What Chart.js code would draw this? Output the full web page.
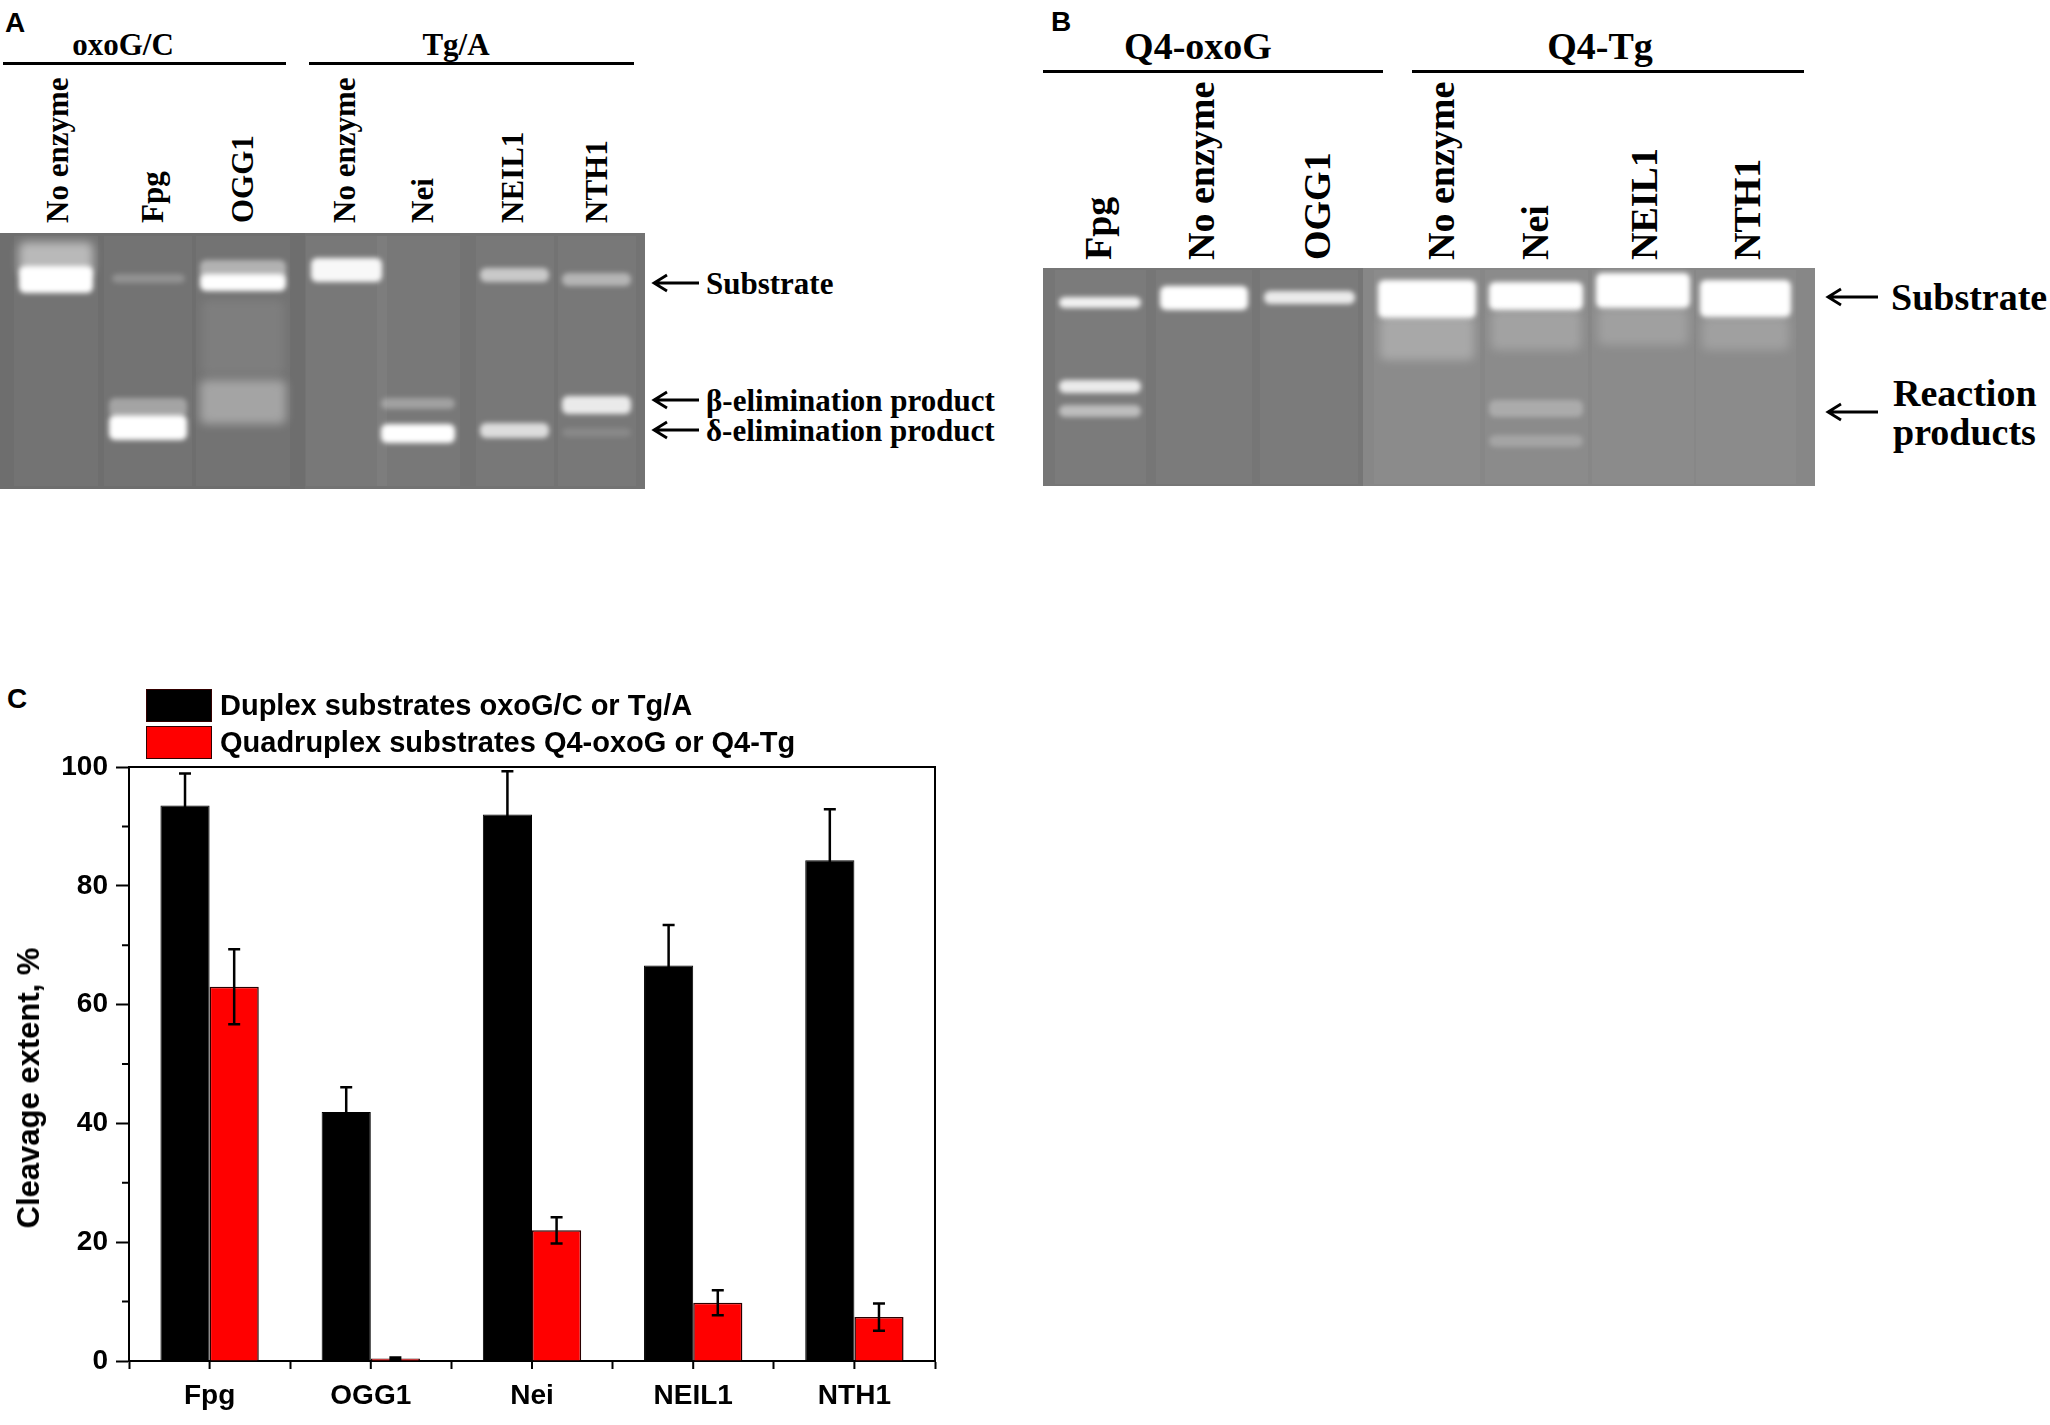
<!DOCTYPE html>
<html>
<head>
<meta charset="utf-8">
<script src="https://cdn.jsdelivr.net/npm/chart.js@4.4.1/dist/chart.umd.min.js"></script>
<style>
	body { margin: 0; width: 2050px; height: 1425px; background: #fff; position: relative; overflow: hidden; font-family: "Liberation Sans", Arial, sans-serif; }
	#gels { position: absolute; left: 0; top: 0; }
	#chart-box { position: absolute; left: 0; top: 660px; width: 960px; height: 765px; }
	.panel-letter { position: absolute; font: bold 28px "Liberation Sans", Arial, sans-serif; line-height: 1; }
	#legend { position: absolute; left: 146px; top: 689px; }
	.legend-row { display: flex; align-items: center; height: 33px; margin-bottom: 4px; }
	.legend-box { width: 66px; height: 33px; box-sizing: border-box; margin-right: 8px; border: 1px solid #300; }
	.legend-text { font: bold 29px "Liberation Sans", Arial, sans-serif; white-space: nowrap; }
	#y-title { position: absolute; left: 29px; top: 1088px; transform: translate(-50%, -50%) rotate(-90deg); font: bold 31px "Liberation Sans", Arial, sans-serif; white-space: nowrap; }
</style>
</head>
<body>
<svg id="gels" width="2050" height="500" xmlns="http://www.w3.org/2000/svg"></svg>
<div class="panel-letter" style="left:5px; top:9px;">A</div>
<div class="panel-letter" style="left:1051px; top:8px;">B</div>
<div class="panel-letter" style="left:7px; top:685px;">C</div>
<div id="chart-box"><canvas id="cleavage-chart"></canvas></div>
<div id="legend"></div>
<div id="y-title">Cleavage extent, %</div>
<script>
// chart data
const categories = ["Fpg", "OGG1", "Nei", "NEIL1", "NTH1"];
const duplexValues = [93.5, 41.9, 92.0, 66.6, 84.3];
const duplexErrors = [5.4, 4.2, 7.3, 6.8, 8.6];
const quadValues = [63.0, 0.4, 22.0, 9.8, 7.4];
const quadErrors = [6.3, 0.2, 2.2, 2.1, 2.3];
const yMinorTicks = [10, 30, 50, 70, 90];

const duplexLabel = "Duplex substrates oxoG/C or Tg/A";
const quadLabel = "Quadruplex substrates Q4-oxoG or Q4-Tg";

// gel pictures (panels A and B) drawn as plain svg
const svg = document.getElementById("gels");
let s = '<defs><filter id="blur" x="-30%" y="-80%" width="160%" height="260%"><feGaussianBlur stdDeviation="2.5"/></filter>' +
	'<filter id="blur2" x="-30%" y="-80%" width="160%" height="260%"><feGaussianBlur stdDeviation="5"/></filter></defs>';

function band(x1, x2, y1, y2, op, f)
{
	return '<rect x="' + x1 + '" y="' + y1 + '" width="' + (x2 - x1) + '" height="' + (y2 - y1) + '" rx="6" fill="#fff" opacity="' + op + '" filter="url(#' + (f || "blur") + ')"/>';
}
function txt(x, y, str, size, anchor)
{
	return '<text x="' + x + '" y="' + y + '" font-family="Liberation Serif, Times New Roman, serif" font-weight="bold" font-size="' + size + '" text-anchor="' + (anchor || "middle") + '" dominant-baseline="central">' + str + '</text>';
}
function lane(x, y, str, size)
{
	return '<text transform="translate(' + x + ',' + y + ') rotate(-90)" font-family="Liberation Serif, Times New Roman, serif" font-weight="bold" font-size="' + size + '" dominant-baseline="central">' + str + '</text>';
}
function arrow(x1, x2, y)
{
	return '<path d="M' + x2 + ' ' + y + ' H' + x1 + ' M' + (x1 + 13) + ' ' + (y - 8) + ' L' + x1 + ' ' + y + ' L' + (x1 + 13) + ' ' + (y + 8) + '" stroke="#000" stroke-width="2.8" fill="none"/>';
}

// panel A
s += txt(123, 44, "oxoG/C", 31) + txt(456, 44, "Tg/A", 31);
s += '<rect x="3" y="62" width="283" height="3" fill="#000"/><rect x="309" y="62" width="325" height="3" fill="#000"/>';
[["No enzyme", 57], ["Fpg", 152], ["OGG1", 242], ["No enzyme", 344], ["Nei", 422], ["NEIL1", 512], ["NTH1", 596]].forEach(function (l)
{
	s += lane(l[1], 223, l[0], 31);
});
s += '<rect x="0" y="233" width="645" height="256" fill="#6e6e6e"/>';
s += '<rect x="305" y="233" width="340" height="256" fill="#737373"/>';
[[14, 98], [104, 192], [196, 290], [306, 387], [377, 460], [476, 554], [558, 636]].forEach(function (l)
{
	s += '<rect x="' + l[0] + '" y="236" width="' + (l[1] - l[0]) + '" height="250" fill="#fff" opacity="0.04"/>';
});
s += band(19, 93, 242, 275, 0.5, "blur2") + band(19, 93, 266, 293, 1);
s += band(112, 185, 274, 283, 0.22) + band(109, 187, 398, 417, 0.35) + band(109, 187, 415, 440, 1);
s += band(200, 286, 260, 280, 0.45) + band(200, 286, 274, 291, 1) + band(202, 284, 300, 375, 0.08, "blur2") + band(200, 286, 380, 424, 0.35, "blur2");
s += band(311, 382, 258, 282, 0.95);
s += band(381, 455, 398, 409, 0.3) + band(381, 455, 424, 443, 1);
s += band(480, 549, 268, 282, 0.6) + band(480, 549, 423, 438, 0.75);
s += band(562, 631, 273, 286, 0.45) + band(562, 631, 396, 414, 0.85) + band(562, 631, 428, 437, 0.12);
s += arrow(654, 699, 283) + txt(706, 283, "Substrate", 31, "start");
s += arrow(654, 699, 400) + txt(706, 400, "β-elimination product", 31, "start");
s += arrow(654, 699, 430) + txt(706, 430, "δ-elimination product", 31, "start");

// panel B
s += txt(1198, 46, "Q4-oxoG", 38) + txt(1600, 46, "Q4-Tg", 38);
s += '<rect x="1043" y="70" width="340" height="3" fill="#000"/><rect x="1412" y="70" width="392" height="3" fill="#000"/>';
[["Fpg", 1098], ["No enzyme", 1201], ["OGG1", 1317], ["No enzyme", 1441], ["Nei", 1535], ["NEIL1", 1644], ["NTH1", 1747]].forEach(function (l)
{
	s += lane(l[1], 260, l[0], 38);
});
s += '<rect x="1043" y="268" width="320" height="218" fill="#767676"/>';
s += '<rect x="1363" y="268" width="452" height="218" fill="#878787"/>';
[[1055, 1146], [1156, 1252], [1260, 1358], [1374, 1480], [1485, 1588], [1592, 1694], [1696, 1796]].forEach(function (l)
{
	s += '<rect x="' + l[0] + '" y="270" width="' + (l[1] - l[0]) + '" height="214" fill="#fff" opacity="0.04"/>';
});
s += band(1059, 1141, 297, 308, 0.9) + band(1059, 1141, 380, 393, 0.85) + band(1059, 1141, 405, 417, 0.5);
s += band(1160, 1248, 286, 310, 1);
s += band(1264, 1355, 291, 304, 0.85);
s += band(1378, 1476, 280, 318, 1) + band(1380, 1474, 316, 360, 0.25, "blur2");
s += band(1489, 1583, 282, 310, 1) + band(1491, 1581, 310, 350, 0.2, "blur2") + band(1489, 1583, 400, 417, 0.28) + band(1489, 1583, 435, 447, 0.22);
s += band(1596, 1690, 273, 308, 1) + band(1598, 1688, 308, 345, 0.18, "blur2");
s += band(1700, 1791, 280, 317, 1) + band(1702, 1789, 317, 350, 0.18, "blur2");
s += arrow(1828, 1878, 297) + txt(1891, 297, "Substrate", 38, "start");
s += arrow(1828, 1878, 412) + txt(1893, 393, "Reaction", 38, "start") + txt(1893, 432, "products", 38, "start");
svg.innerHTML = s;

// Error bars drawn through the y scale
const errorBars = {
	id: "errorBars",
	afterDatasetsDraw(chart)
	{
		const ctx = chart.ctx;
		const y = chart.scales.y;
		ctx.save();
		ctx.strokeStyle = "#000";
		ctx.lineWidth = 2.5;
		chart.data.datasets.forEach(function (ds, di)
		{
			chart.getDatasetMeta(di).data.forEach(function (bar, i)
			{
				const top = y.getPixelForValue(ds.data[i] + ds.errors[i]);
				const bot = y.getPixelForValue(ds.data[i] - ds.errors[i]);
				ctx.beginPath();
				ctx.moveTo(bar.x, top); ctx.lineTo(bar.x, bot);
				ctx.moveTo(bar.x - 6, top); ctx.lineTo(bar.x + 6, top);
				ctx.moveTo(bar.x - 6, bot); ctx.lineTo(bar.x + 6, bot);
				ctx.stroke();
			});
		});
		ctx.restore();
	}
};

// top/right frame, minor y ticks and ticks under each category
const axisExtras = {
	id: "axisExtras",
	afterDraw(chart)
	{
		const {ctx, chartArea: a, scales: {x, y}} = chart;
		ctx.save();
		ctx.strokeStyle = "#000";
		ctx.lineWidth = 2;
		ctx.beginPath();
		ctx.moveTo(a.left, a.top); ctx.lineTo(a.right, a.top); ctx.lineTo(a.right, a.bottom);
		yMinorTicks.forEach(function (v)
		{
			const py = y.getPixelForValue(v);
			ctx.moveTo(a.left - 7, py); ctx.lineTo(a.left, py);
		});
		categories.forEach(function (c, i)
		{
			const px = x.getPixelForValue(i);
			ctx.moveTo(px, a.bottom); ctx.lineTo(px, a.bottom + 8);
		});
		ctx.stroke();
		ctx.restore();
	}
};

const tickFont = {family: "Liberation Sans", weight: "bold", size: 28};

const chart = new Chart(document.getElementById("cleavage-chart"), {
	type: "bar",
	data: {
		labels: categories,
		datasets: [{
			label: duplexLabel, data: duplexValues, errors: duplexErrors,
			backgroundColor: "#000000", borderColor: "#000000", borderWidth: 1
		}, {
			label: quadLabel, data: quadValues, errors: quadErrors,
			backgroundColor: "#ff0000", borderColor: "#2a0000", borderWidth: 1.5
		}]
	},
	options: {
		responsive: true,
		maintainAspectRatio: false,
		animation: false,
		datasets: {bar: {barPercentage: 1, categoryPercentage: 0.61}},
		layout: {padding: {top: 107, right: 25, left: 0, bottom: 0}},
		plugins: {legend: {display: false}, tooltip: {enabled: false}},
		scales: {
			x: {
				grid: {drawOnChartArea: false, drawTicks: true, tickLength: 8, tickColor: "#000", tickWidth: 2, offset: true},
				border: {display: true, color: "#000", width: 2},
				ticks: {color: "#000", font: tickFont, padding: 10},
				afterFit: function (scale) { scale.height = 64; }
			},
			y: {
				min: 0, max: 100,
				ticks: {stepSize: 20, color: "#000", font: tickFont, padding: 8},
				grid: {drawOnChartArea: false, drawTicks: true, tickLength: 13, tickColor: "#000", tickWidth: 2},
				border: {display: true, color: "#000", width: 2},
				afterFit: function (scale) { scale.width = 129; }
			}
		}
	},
	plugins: [errorBars, axisExtras]
});

// legend, two rows, built from the datasets
const legend = document.getElementById("legend");
chart.data.datasets.forEach(function (ds)
{
	const row = document.createElement("div");
	row.className = "legend-row";
	row.innerHTML = '<div class="legend-box" style="background:' + ds.backgroundColor + '"></div><span class="legend-text">' + ds.label + '</span>';
	legend.appendChild(row);
});
</script>
</body>
</html>
